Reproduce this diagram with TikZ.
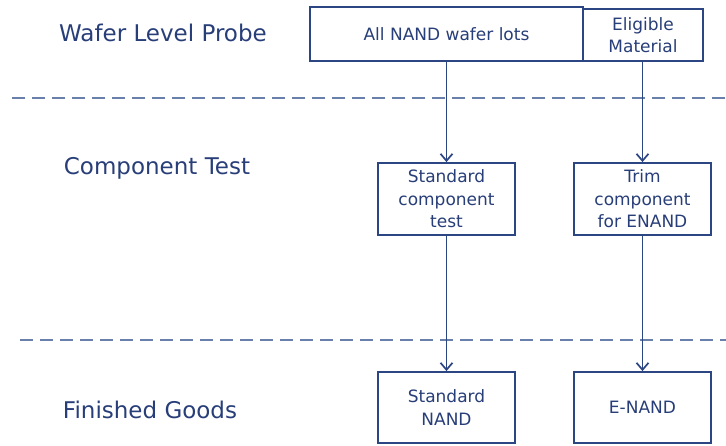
\documentclass[tikz,border=0pt]{standalone}
\usepackage{fontspec}
\setmainfont{DejaVu Sans}
\usetikzlibrary{arrows.meta}
\definecolor{navy}{RGB}{44,70,132}
\definecolor{txt}{RGB}{40,62,120}
\definecolor{dashc}{RGB}{105,128,170}
\tikzset{
  box/.style={draw=navy, line width=1.8pt, fill=white, inner sep=0pt, align=center, text=txt, font=\fontsize{17}{22.5}\selectfont},
  lane/.style={text=txt, font=\fontsize{23}{27}\selectfont, anchor=center},
  sep/.style={draw=dashc, line width=2.2pt, dash pattern=on 13pt off 7pt},
  arr/.style={draw=navy, line width=1.7pt, -{Straight Barb[length=7pt,width=12pt]}}
}
\begin{document}
\begin{tikzpicture}[x=1pt,y=-1pt]
\useasboundingbox (0,0) rectangle (726,445);
% lane separators
\coordinate (s1a) at (12,98); \coordinate (s1b) at (726,98);
\coordinate (s2a) at (20,340); \coordinate (s2b) at (726,340);
\draw[sep] (s1a) -- (s1b);
\draw[sep] (s2a) -- (s2b);
% lane labels
\node[lane] (l1) at (163,33) {Wafer Level Probe};
\node[lane] (l2) at (157,168) {Component Test};
\node[lane] (l3) at (150,410) {Finished Goods};
% boxes
\node[box, minimum width=273pt, minimum height=54pt] (all) at (446.5,34) {All NAND wafer lots};
\node[box, minimum width=120pt, minimum height=52pt] (elig) at (643,35) {Eligible\\Material};
\node[box, minimum width=137pt, minimum height=72pt] (std) at (446.5,199) {Standard\\component\\test};
\node[box, minimum width=137pt, minimum height=72pt] (trim) at (642.5,199) {Trim\\component\\for ENAND};
\node[box, minimum width=137pt, minimum height=71pt] (sn) at (446.5,407.5) {Standard\\NAND};
\node[box, minimum width=137pt, minimum height=71pt] (en) at (642.5,407.5) {E-NAND};
% arrows
\draw[arr] (all.south -| std.north) -- (std.north);
\draw[arr] (elig.south -| trim.north) -- (trim.north);
\draw[arr] (std.south) -- (sn.north);
\draw[arr] (trim.south) -- (en.north);
\end{tikzpicture}
\end{document}
